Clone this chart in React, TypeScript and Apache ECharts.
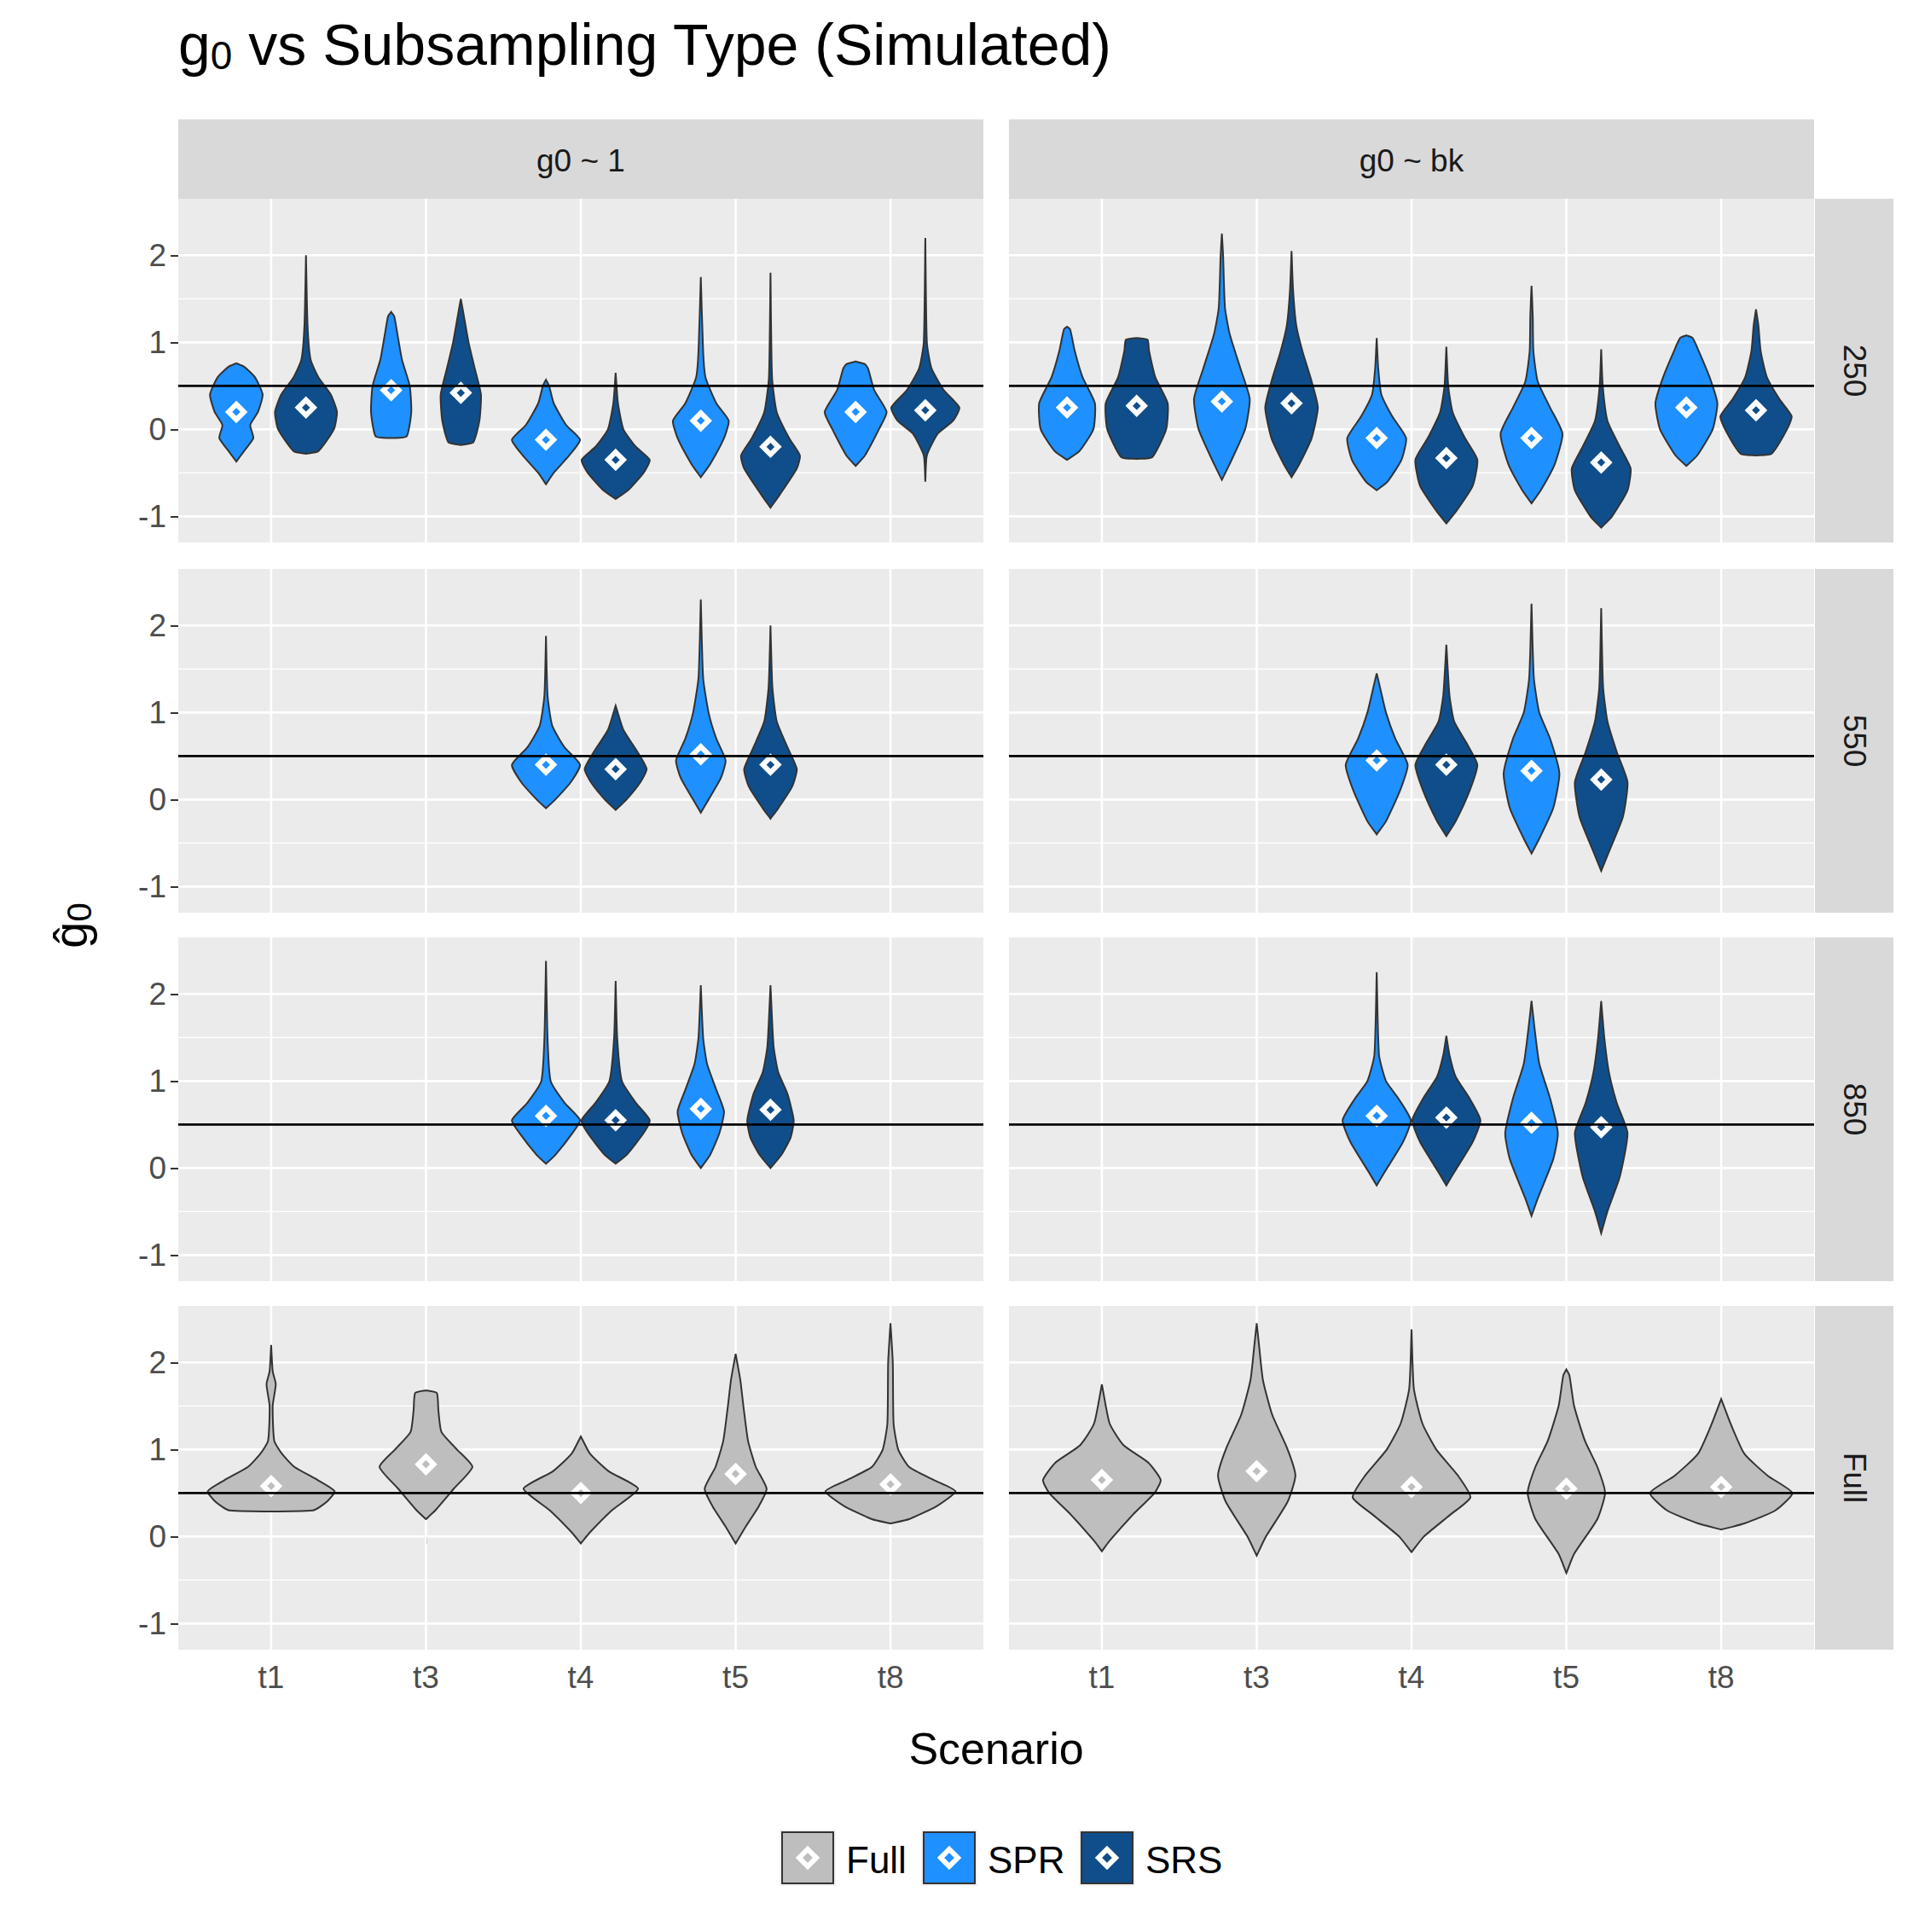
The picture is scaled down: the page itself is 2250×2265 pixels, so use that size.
import React, { useEffect, useRef } from "react";
import * as echarts from "echarts";

const categories = ["t1", "t3", "t4", "t5", "t8"];
const yTicks = [-1, 0, 1, 2];
const yMinor = [-0.5, 0.5, 1.5];
const colStrips = ["g0 ~ 1", "g0 ~ bk"];
const rowStrips = ["250", "550", "850", "Full"];
const truth = 0.5;
const fills: Record<string, string> = { F: "#BEBEBE", P: "#1E90FF", S: "#104E8B" };
const offsets: Record<string, number> = { F: 0, P: -0.225, S: 0.225 };
const legendKeys = [["F", "Full"], ["P", "SPR"], ["S", "SRS"]];

type V = [string, string, number, number[][]];
// [category, type, mean, profile [y, half width]]
const v250a: V[] = [
  ["t1", "P", 0.2, [[-0.37, 0], [-0.25, 0.05], [-0.1, 0.11], [0.05, 0.09], [0.2, 0.14], [0.4, 0.17], [0.6, 0.12], [0.72, 0.05], [0.76, 0]]],
  ["t1", "S", 0.25, [[-0.28, 0], [-0.25, 0.08], [0, 0.18], [0.2, 0.2], [0.4, 0.16], [0.6, 0.08], [0.8, 0.03], [1.2, 0.01], [2.0, 0]]],
  ["t3", "P", 0.45, [[-0.1, 0], [-0.08, 0.1], [0.2, 0.13], [0.5, 0.12], [0.8, 0.07], [1.1, 0.04], [1.3, 0.02], [1.35, 0]]],
  ["t3", "S", 0.42, [[-0.18, 0], [-0.15, 0.08], [0.1, 0.12], [0.4, 0.13], [0.7, 0.09], [1.0, 0.05], [1.3, 0.02], [1.5, 0]]],
  ["t4", "P", -0.12, [[-0.63, 0], [-0.5, 0.05], [-0.3, 0.15], [-0.12, 0.22], [0.05, 0.13], [0.3, 0.05], [0.5, 0.02], [0.57, 0]]],
  ["t4", "S", -0.35, [[-0.8, 0], [-0.7, 0.08], [-0.5, 0.18], [-0.35, 0.22], [-0.2, 0.13], [0, 0.05], [0.3, 0.015], [0.65, 0]]],
  ["t5", "P", 0.1, [[-0.55, 0], [-0.4, 0.06], [-0.1, 0.15], [0.1, 0.18], [0.3, 0.1], [0.6, 0.03], [0.9, 0.015], [1.75, 0]]],
  ["t5", "S", -0.2, [[-0.9, 0], [-0.75, 0.06], [-0.45, 0.17], [-0.3, 0.19], [-0.1, 0.12], [0.2, 0.04], [0.6, 0.01], [1.8, 0]]],
  ["t8", "P", 0.2, [[-0.42, 0], [-0.3, 0.06], [0, 0.15], [0.2, 0.2], [0.45, 0.12], [0.7, 0.08], [0.75, 0.06], [0.78, 0]]],
  ["t8", "S", 0.22, [[-0.6, 0], [-0.3, 0.01], [-0.05, 0.08], [0.1, 0.18], [0.25, 0.22], [0.45, 0.12], [0.7, 0.04], [1.0, 0.01], [2.2, 0]]],
];
const v250b: V[] = [
  ["t1", "P", 0.25, [[-0.35, 0], [-0.25, 0.08], [0, 0.17], [0.3, 0.18], [0.6, 0.1], [0.9, 0.05], [1.15, 0.02], [1.18, 0]]],
  ["t1", "S", 0.27, [[-0.34, 0], [-0.32, 0.1], [0, 0.19], [0.3, 0.2], [0.6, 0.12], [0.9, 0.08], [1.03, 0.07], [1.05, 0]]],
  ["t3", "P", 0.32, [[-0.58, 0], [-0.4, 0.05], [0, 0.15], [0.35, 0.18], [0.7, 0.12], [1.1, 0.05], [1.4, 0.02], [2.0, 0.008], [2.25, 0]]],
  ["t3", "S", 0.3, [[-0.55, 0], [-0.4, 0.05], [-0.1, 0.13], [0.25, 0.17], [0.55, 0.13], [0.9, 0.07], [1.2, 0.03], [1.6, 0.01], [2.05, 0]]],
  ["t4", "P", -0.1, [[-0.7, 0], [-0.6, 0.07], [-0.35, 0.16], [-0.1, 0.19], [0.15, 0.1], [0.4, 0.03], [0.7, 0.01], [1.05, 0]]],
  ["t4", "S", -0.33, [[-1.08, 0], [-0.95, 0.06], [-0.65, 0.17], [-0.35, 0.2], [-0.1, 0.12], [0.2, 0.04], [0.5, 0.012], [0.95, 0]]],
  ["t5", "P", -0.1, [[-0.85, 0], [-0.7, 0.06], [-0.4, 0.15], [-0.05, 0.2], [0.25, 0.12], [0.55, 0.04], [0.9, 0.012], [1.3, 0.008], [1.65, 0]]],
  ["t5", "S", -0.38, [[-1.13, 0], [-1.0, 0.07], [-0.7, 0.17], [-0.45, 0.19], [-0.2, 0.12], [0.1, 0.04], [0.5, 0.01], [0.92, 0]]],
  ["t8", "P", 0.25, [[-0.42, 0], [-0.3, 0.07], [0, 0.17], [0.3, 0.2], [0.6, 0.15], [0.9, 0.08], [1.05, 0.04], [1.08, 0]]],
  ["t8", "S", 0.22, [[-0.3, 0], [-0.28, 0.1], [0, 0.2], [0.15, 0.23], [0.35, 0.15], [0.6, 0.07], [0.9, 0.03], [1.2, 0.015], [1.38, 0]]],
];
const v550a: V[] = [
  ["t4", "P", 0.4, [[-0.1, 0], [0, 0.06], [0.2, 0.16], [0.4, 0.22], [0.6, 0.12], [0.85, 0.04], [1.2, 0.01], [1.88, 0]]],
  ["t4", "S", 0.35, [[-0.12, 0], [0, 0.07], [0.2, 0.16], [0.35, 0.2], [0.55, 0.14], [0.8, 0.05], [1.08, 0]]],
  ["t5", "P", 0.52, [[-0.15, 0], [0, 0.05], [0.25, 0.13], [0.45, 0.16], [0.7, 0.1], [1.0, 0.05], [1.4, 0.015], [2.3, 0]]],
  ["t5", "S", 0.4, [[-0.22, 0], [-0.1, 0.05], [0.15, 0.14], [0.35, 0.17], [0.6, 0.11], [0.9, 0.04], [1.3, 0.012], [2.0, 0]]],
];
const v550b: V[] = [
  ["t4", "P", 0.45, [[-0.4, 0], [-0.25, 0.06], [0.1, 0.15], [0.4, 0.2], [0.7, 0.12], [1.0, 0.06], [1.3, 0.02], [1.45, 0]]],
  ["t4", "S", 0.4, [[-0.42, 0], [-0.25, 0.06], [0.1, 0.15], [0.4, 0.2], [0.65, 0.13], [0.9, 0.05], [1.2, 0.02], [1.78, 0]]],
  ["t5", "P", 0.33, [[-0.62, 0], [-0.45, 0.05], [-0.1, 0.14], [0.3, 0.18], [0.7, 0.12], [1.0, 0.05], [1.4, 0.015], [2.25, 0]]],
  ["t5", "S", 0.23, [[-0.82, 0], [-0.6, 0.05], [-0.2, 0.14], [0.2, 0.17], [0.55, 0.1], [0.9, 0.04], [1.3, 0.012], [2.2, 0]]],
];
const v850a: V[] = [
  ["t4", "P", 0.6, [[0.05, 0], [0.15, 0.06], [0.4, 0.17], [0.55, 0.22], [0.75, 0.12], [1.0, 0.03], [1.5, 0.01], [2.38, 0]]],
  ["t4", "S", 0.55, [[0.05, 0], [0.15, 0.07], [0.4, 0.18], [0.55, 0.22], [0.75, 0.13], [1.0, 0.04], [1.5, 0.01], [2.15, 0]]],
  ["t5", "P", 0.68, [[0, 0], [0.15, 0.06], [0.4, 0.12], [0.65, 0.15], [0.9, 0.1], [1.2, 0.04], [1.5, 0.015], [2.1, 0]]],
  ["t5", "S", 0.67, [[0, 0], [0.15, 0.07], [0.35, 0.13], [0.55, 0.15], [0.85, 0.11], [1.1, 0.05], [1.4, 0.02], [2.1, 0]]],
];
const v850b: V[] = [
  ["t4", "P", 0.6, [[-0.2, 0], [-0.05, 0.05], [0.3, 0.17], [0.55, 0.22], [0.8, 0.14], [1.0, 0.06], [1.3, 0.015], [2.25, 0]]],
  ["t4", "S", 0.58, [[-0.2, 0], [-0.05, 0.05], [0.3, 0.17], [0.55, 0.22], [0.8, 0.15], [1.05, 0.06], [1.3, 0.02], [1.52, 0]]],
  ["t5", "P", 0.52, [[-0.55, 0], [-0.35, 0.04], [0.1, 0.14], [0.4, 0.17], [0.8, 0.12], [1.2, 0.05], [1.6, 0.02], [1.92, 0]]],
  ["t5", "S", 0.47, [[-0.75, 0], [-0.5, 0.04], [-0.1, 0.12], [0.4, 0.17], [0.75, 0.1], [1.1, 0.05], [1.5, 0.02], [1.92, 0]]],
];
const vFulla: V[] = [
  ["t1", "F", 0.58, [[0.3, 0.27], [0.4, 0.36], [0.52, 0.41], [0.65, 0.3], [0.8, 0.15], [0.95, 0.07], [1.1, 0.02], [1.5, 0.01], [1.75, 0.03], [1.9, 0.01], [2.2, 0]]],
  ["t3", "F", 0.83, [[0.2, 0], [0.3, 0.06], [0.55, 0.18], [0.8, 0.3], [1.0, 0.2], [1.2, 0.1], [1.45, 0.08], [1.65, 0.07], [1.68, 0]]],
  ["t4", "F", 0.5, [[-0.08, 0], [0.05, 0.06], [0.3, 0.2], [0.55, 0.37], [0.75, 0.18], [0.95, 0.06], [1.15, 0]]],
  ["t5", "F", 0.72, [[-0.08, 0], [0.1, 0.06], [0.35, 0.15], [0.55, 0.2], [0.8, 0.13], [1.1, 0.08], [1.5, 0.05], [1.8, 0.03], [2.1, 0]]],
  ["t8", "F", 0.6, [[0.15, 0], [0.2, 0.12], [0.35, 0.3], [0.52, 0.42], [0.65, 0.28], [0.8, 0.12], [1.0, 0.05], [1.3, 0.02], [2.0, 0.015], [2.45, 0]]],
];
const vFullb: V[] = [
  ["t1", "F", 0.65, [[-0.17, 0], [-0.05, 0.05], [0.25, 0.2], [0.5, 0.34], [0.65, 0.38], [0.85, 0.3], [1.05, 0.14], [1.3, 0.05], [1.75, 0]]],
  ["t3", "F", 0.75, [[-0.22, 0], [0, 0.06], [0.4, 0.2], [0.7, 0.25], [1.0, 0.2], [1.4, 0.1], [1.8, 0.04], [2.2, 0.015], [2.45, 0]]],
  ["t4", "F", 0.57, [[-0.18, 0], [0, 0.08], [0.25, 0.25], [0.45, 0.38], [0.7, 0.3], [1.0, 0.16], [1.3, 0.07], [1.7, 0.015], [2.38, 0]]],
  ["t5", "F", 0.55, [[-0.42, 0], [-0.2, 0.05], [0.2, 0.2], [0.5, 0.25], [0.8, 0.2], [1.1, 0.12], [1.5, 0.05], [1.85, 0.02], [1.92, 0]]],
  ["t8", "F", 0.57, [[0.08, 0], [0.15, 0.15], [0.3, 0.35], [0.5, 0.46], [0.7, 0.3], [0.95, 0.15], [1.3, 0.06], [1.58, 0]]],
];
const panels = [v250a, v250b, v550a, v550b, v850a, v850b, vFulla, vFullb];

const FONT = "Liberation Sans";
const colLeft = [209, 1183];
const panelW = 944;
const rowTop = [233, 667, 1099, 1531];
const panelH = 403;
const stripX = 2128;
const Y_MIN = -1.3, Y_MAX = 2.65, X_MIN = 0.4, X_MAX = 5.6;

function diamond(cx: number, cy: number, r: number, fill: string) {
  return {
    type: "polygon",
    shape: { points: [[cx, cy - r], [cx + r, cy], [cx, cy + r], [cx - r, cy]] },
    style: { fill, stroke: "#fff", lineWidth: 6 },
  };
}

export default function App() {
  const ref = useRef<HTMLDivElement>(null);
  useEffect(() => {
    document.body.style.margin = "0";
    const chart = echarts.init(ref.current!, null, { renderer: "svg" });
    const grids: any[] = [], xAxes: any[] = [], yAxes: any[] = [], series: any[] = [];
    const graphics: any[] = [];
    panels.forEach((list, g) => {
      const r = Math.floor(g / 2), c = g % 2;
      grids.push({ left: colLeft[c], top: rowTop[r], width: panelW, height: panelH, show: true, backgroundColor: "#EBEBEB", borderWidth: 0 });
      xAxes.push({
        gridIndex: g, type: "value", min: X_MIN, max: X_MAX,
        axisLine: { show: false }, splitLine: { show: false },
        axisTick: { show: r === 3, customValues: [1, 2, 3, 4, 5], length: 9, lineStyle: { color: "#333", width: 2 } },
        axisLabel: { show: r === 3, customValues: [1, 2, 3, 4, 5], formatter: (v: number) => categories[Math.round(v) - 1] ?? "", color: "#4D4D4D", fontSize: 37, fontFamily: FONT, margin: 14 },
      });
      yAxes.push({
        gridIndex: g, type: "value", min: Y_MIN, max: Y_MAX,
        axisLine: { show: false }, splitLine: { show: false },
        axisTick: { show: c === 0, customValues: yTicks, length: 9, lineStyle: { color: "#333", width: 2 } },
        axisLabel: { show: c === 0, customValues: yTicks, color: "#4D4D4D", fontSize: 37, fontFamily: FONT, margin: 14 },
      });
      series.push({
        type: "custom", xAxisIndex: g, yAxisIndex: g, clip: false, silent: true, z: 1,
        data: [[1, 0]],
        renderItem: (_p: any, api: any) => {
          const ch: any[] = [];
          const hl = (y: number, w: number, col: string) => {
            const a = api.coord([X_MIN, y]), b = api.coord([X_MAX, y]);
            ch.push({ type: "line", shape: { x1: a[0], y1: a[1], x2: b[0], y2: b[1] }, style: { stroke: col, lineWidth: w } });
          };
          yMinor.forEach((y) => hl(y, 1.3, "#fff"));
          yTicks.forEach((y) => hl(y, 2.6, "#fff"));
          categories.forEach((_, i) => {
            const a = api.coord([i + 1, Y_MIN]), b = api.coord([i + 1, Y_MAX]);
            ch.push({ type: "line", shape: { x1: a[0], y1: a[1], x2: b[0], y2: b[1] }, style: { stroke: "#fff", lineWidth: 2.6 } });
          });
          return { type: "group", children: ch };
        },
      });
      series.push({
        type: "custom", xAxisIndex: g, yAxisIndex: g, clip: false, silent: true, z: 3,
        data: [[1, truth]],
        renderItem: (_p: any, api: any) => {
          const a = api.coord([X_MIN, truth]), b = api.coord([X_MAX, truth]);
          return { type: "line", shape: { x1: a[0], y1: a[1], x2: b[0], y2: b[1] }, style: { stroke: "#000", lineWidth: 2.6 } };
        },
      });
      series.push({
        type: "custom", xAxisIndex: g, yAxisIndex: g, clip: false, silent: true, z: 2,
        data: list.map((v) => [categories.indexOf(v[0]) + 1 + offsets[v[1]], v[2]]),
        renderItem: (p: any, api: any) => {
          const v = list[p.dataIndex];
          const xc = categories.indexOf(v[0]) + 1 + offsets[v[1]];
          const pts = v[3];
          const right = pts.map(([y, w]) => api.coord([xc + w, y]));
          const left = pts.slice().reverse().map(([y, w]) => api.coord([xc - w, y]));
          const m = api.coord([xc, v[2]]);
          return {
            type: "group",
            children: [
              { type: "polygon", shape: { points: right.concat(left), smooth: 0.18 }, style: { fill: fills[v[1]], stroke: "#333", lineWidth: 2 } },
              diamond(m[0], m[1], 9, fills[v[1]]),
            ],
          };
        },
      });
    });
    colStrips.forEach((t, c) => {
      graphics.push({ type: "rect", shape: { x: colLeft[c], y: 140, width: panelW, height: 93 }, style: { fill: "#D9D9D9" } });
      graphics.push({ type: "text", x: colLeft[c] + panelW / 2, y: 188, style: { text: t, fill: "#1A1A1A", font: `37px "${FONT}"`, align: "center", verticalAlign: "middle" } });
    });
    rowStrips.forEach((t, r) => {
      graphics.push({ type: "rect", shape: { x: stripX, y: rowTop[r], width: 92, height: panelH }, style: { fill: "#D9D9D9" } });
      graphics.push({ type: "text", x: stripX + 46, y: rowTop[r] + panelH / 2, rotation: -Math.PI / 2, style: { text: t, fill: "#1A1A1A", font: `37px "${FONT}"`, align: "center", verticalAlign: "middle" } });
    });
    graphics.push({
      type: "text", left: 209, top: 18,
      style: { text: "g{s|0} vs Subsampling Type (Simulated)", fill: "#000", font: `68px "${FONT}"`, rich: { s: { fontSize: 46, fontFamily: FONT, verticalAlign: "bottom", padding: [26, 0, 0, 0] } } },
    });
    graphics.push({ type: "text", x: 1168, y: 2050, style: { text: "Scenario", fill: "#000", font: `52px "${FONT}"`, align: "center", verticalAlign: "middle" } });
    graphics.push({
      type: "text", x: 82, y: 1085, rotation: Math.PI / 2,
      style: { text: "ĝ{s|0}", fill: "#000", font: `56px "${FONT}"`, align: "center", verticalAlign: "middle", rich: { s: { fontSize: 40, fontFamily: FONT, padding: [22, 0, 0, 0] } } },
    });
    const lx = [914, 1080, 1265];
    legendKeys.forEach(([k, name], i) => {
      graphics.push({ type: "rect", shape: { x: lx[i], y: 2145, width: 66, height: 66 }, style: { fill: "#F2F2F2" } });
      graphics.push({ type: "rect", shape: { x: lx[i] + 3, y: 2148, width: 60, height: 60 }, style: { fill: fills[k], stroke: "#333", lineWidth: 2 } });
      graphics.push(diamond(lx[i] + 33, 2178, 10, fills[k]));
      graphics.push({ type: "text", x: lx[i] + 78, y: 2180, style: { text: name, fill: "#000", font: `44px "${FONT}"`, verticalAlign: "middle" } });
    });
    chart.setOption({ animation: false, backgroundColor: "#fff", grid: grids, xAxis: xAxes, yAxis: yAxes, series, graphic: graphics });
    return () => chart.dispose();
  }, []);
  return <div ref={ref} style={{ width: 2250, height: 2265 }} />;
}
